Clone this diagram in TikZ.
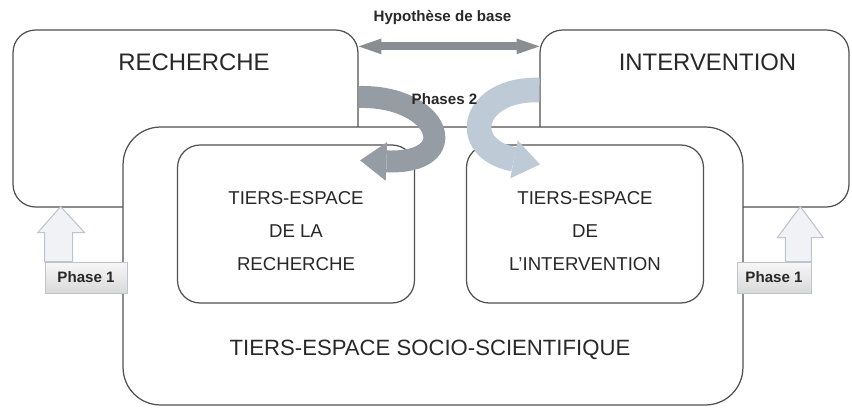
\documentclass[tikz,border=0pt]{standalone}
\usepackage{fontspec}
\setmainfont{Liberation Sans}
\usetikzlibrary{positioning, arrows.meta}

\definecolor{boxline}{RGB}{80,80,80}
\definecolor{txt}{RGB}{40,40,40}
\definecolor{hypgray}{RGB}{138,142,146}
\definecolor{phasedark}{RGB}{150,156,163}
\definecolor{phaselight}{RGB}{190,202,214}
\definecolor{upfill}{RGB}{240,242,246}
\definecolor{upline}{RGB}{190,196,204}

\begin{document}
\begin{tikzpicture}[
        x=0.02cm, y=-0.02cm,
        topbox/.style={rectangle, draw=boxline, fill=white, line width=0.7pt, rounded corners=0.45cm, minimum height=3.54cm},
        bigbox/.style={rectangle, draw=boxline, fill=white, line width=0.7pt, rounded corners=0.75cm, minimum width=12.4cm, minimum height=5.56cm},
        innerbox/.style={rectangle, draw=boxline, fill=white, line width=0.7pt, rounded corners=0.45cm, minimum width=4.74cm, minimum height=3.16cm},
        innerlbl/.style={align=center, text=txt, font=\fontsize{10.6}{18.7}\selectfont},
        toplbl/.style={text=txt, font=\fontsize{13.6}{16}\selectfont},
        boldlbl/.style={text=txt, font=\bfseries\fontsize{8.6}{10}\selectfont},
        phasebox/.style={rectangle, draw=upline, top color=gray!6, bottom color=gray!30, minimum height=0.62cm, inner sep=0pt, text=txt, font=\bfseries\fontsize{8.6}{10}\selectfont},
        uparrow/.style={fill=upfill, draw=upline, line width=0.6pt},
        hyparrow/.style={draw=hypgray, line width=4.5pt, {Triangle[width=9pt, length=13pt, line width=0pt]}-{Triangle[width=9pt, length=13pt, line width=0pt]}},
        bendarrow/.style={line width=12.5pt, -{Triangle[width=22pt, length=15pt, line width=0pt]}},
      ]

        \useasboundingbox (0,0) rectangle (852,412);

        \node[topbox, minimum width=6.9cm]  (rech)   at (185.5,118.5) {};
        \node[topbox, minimum width=6.18cm] (interv) at (694.5,118.5) {};
        \node[toplbl]  (rechlbl)   at (194,62)     {RECHERCHE};
        \node[toplbl]  (intervlbl) at (707.5,62)   {INTERVENTION};
        \node[boldlbl] (hyp)       at (442.5,17.5) {Hypothèse de base};

        \draw[hyparrow] ([yshift=-3.4mm]rech.north east) -- ([yshift=-3.4mm]interv.north west);

        \node[bigbox]   (socio)  at (433,266) {};
        \node[innerbox] (tsr)    at (296,224) {};
        \node[innerbox] (tsi)    at (585,224) {};
        \node[innerlbl] (tsrlbl) at (296,231) {TIERS-ESPACE\\DE LA\\RECHERCHE};
        \node[innerlbl] (tsilbl) at (585,231) {TIERS-ESPACE\\DE\\L’INTERVENTION};
        \node[toplbl, font=\fontsize{12.6}{15}\selectfont] (sociolbl) at (430,350) {TIERS-ESPACE SOCIO-SCIENTIFIQUE};

        \draw[bendarrow, draw=phasedark]
          ([yshift=4.3mm]rech.east) .. controls +(82,-2) and +(105,4) .. ([xshift=-1.1cm, yshift=-3.2mm]tsr.north east);
        \draw[bendarrow, draw=phaselight, line width=14pt]
          ([yshift=5.7mm]interv.west) .. controls +(-68,-2) and +(-82,-16) .. ([xshift=1.48cm, yshift=-4mm]tsi.north west);
        \node[boldlbl] (phases) at (444.5,99) {Phases 2};

        \node[phasebox, minimum width=1.64cm] (ph1l) at (86,277.5) {Phase 1};
        \node[phasebox, minimum width=1.48cm] (ph1r) at (774,277.5) {Phase 1};
        \draw[uparrow] (ph1l.north west) -- ++(0,-29) -- ++(-7,0) -- ++(23,-26) -- ++(24,26) -- ++(-12,0) |- (ph1l.north west) -- cycle;
        \draw[uparrow] (ph1r.north east) -- ++(0,-24) -- ++(12,0) -- ++(-23,-31) -- ++(-23,31) -- ++(8,0) |- (ph1r.north east) -- cycle;
      \end{tikzpicture}
\end{document}
